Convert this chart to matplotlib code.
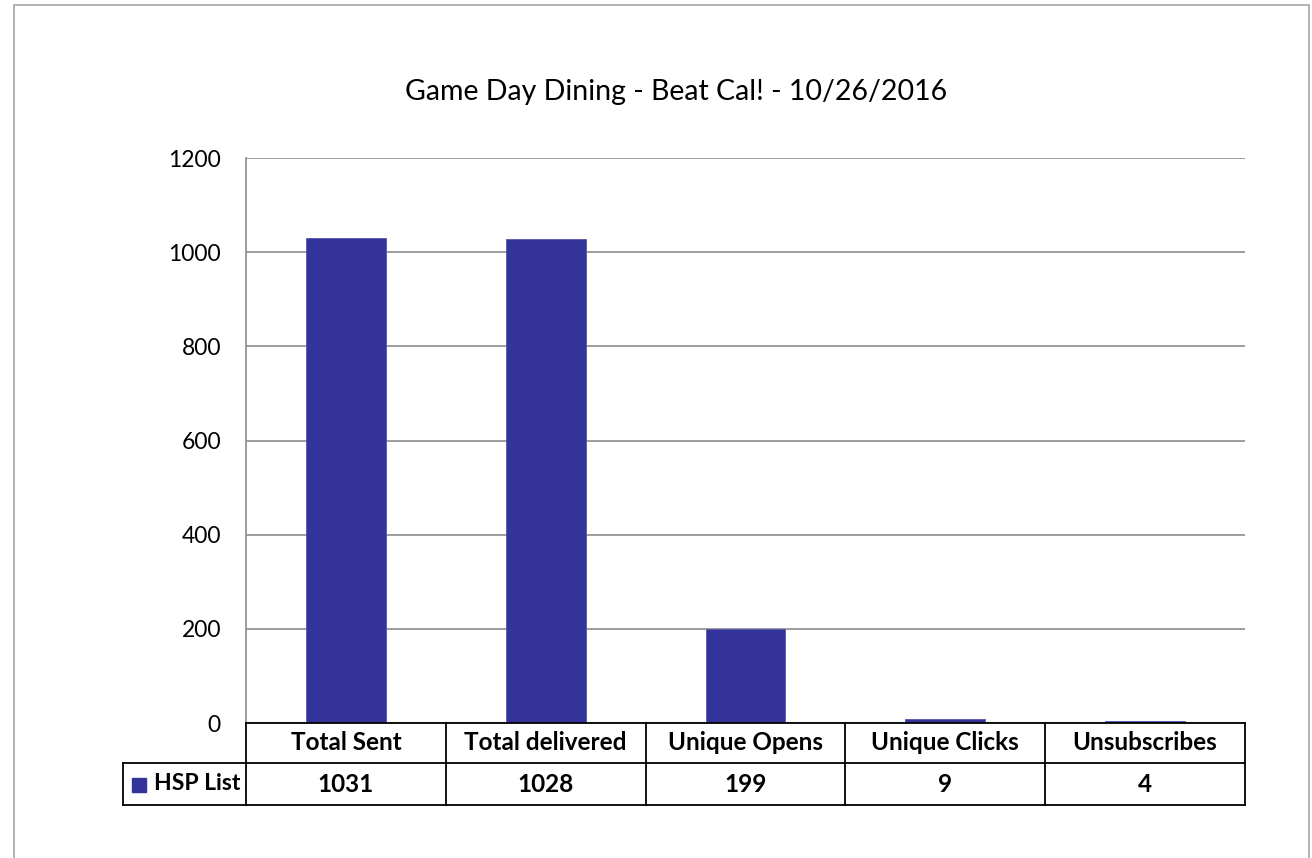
import matplotlib
matplotlib.use("Agg")
import matplotlib.pyplot as plt
from matplotlib.patches import Rectangle

# email campaign stats
categories = ["Total Sent", "Total delivered", "Unique Opens", "Unique Clicks", "Unsubscribes"]
hsp_list = [1031, 1028, 199, 9, 4]
series_name = "HSP List"
yticks = [0, 200, 400, 600, 800, 1000, 1200]

BAR = "#333399"
GRID = "#8c8c8c"
plt.rcParams["font.family"] = ["Lato", "DejaVu Sans"]

W, H = 1312, 858
fig = plt.figure(figsize=(W / 100, H / 100), dpi=100)

# outer chart frame (bottom edge falls below the canvas)
fig.add_artist(Rectangle((14 / W, -0.01), (1309 - 14) / W, (H - 5) / H + 0.01,
                         transform=fig.transFigure, fill=False, ec="#a6a6a6", lw=1.2))

left, right, top, bottom = 246, 1245, 158, 723
ax = fig.add_axes([left / W, (H - bottom) / H, (right - left) / W, (bottom - top) / H])

x = list(range(len(categories)))
ax.bar(x, hsp_list, width=0.4, color=BAR, edgecolor="#5555b0", lw=0.6, zorder=3)
ax.set_xlim(-0.5, len(categories) - 0.5)
ax.set_ylim(0, 1200)
ax.set_yticks(yticks)
ax.set_yticklabels([str(t) for t in yticks], fontsize=16.5)
ax.tick_params(axis="y", length=0, pad=18)
ax.set_xticks([])
ax.grid(axis="y", color=GRID, lw=1.2, zorder=0)
ax.set_axisbelow(True)
for s in ("top", "right", "bottom"):
    ax.spines[s].set_visible(False)
ax.spines["left"].set_color(GRID)
ax.spines["left"].set_linewidth(1.2)

fig.text(676 / W, 1 - 92 / H, "Game Day Dining - Beat Cal! - 10/26/2016",
         ha="center", va="center", fontsize=20.5)

# data table under the plot: x in data units, y in axes fraction
tr = ax.get_xaxis_transform()
px = 1.0 / (bottom - top)
r1 = -40 * px          # bottom of header row
r2 = -82 * px          # bottom of value row
x0 = -0.5
x1 = len(categories) - 0.5
xl = x0 - 123 / 200    # left edge of series label cell
line_kw = dict(color="black", lw=1.3, transform=tr, clip_on=False, zorder=5)

ax.plot([x0, x1], [0, 0], **line_kw)
ax.plot([xl, x1], [r1, r1], **line_kw)
ax.plot([xl, x1], [r2, r2], **line_kw)
ax.plot([xl, xl], [r1, r2], **line_kw)
for i in range(len(categories) + 1):
    ax.plot([x0 + i, x0 + i], [0, r2], **line_kw)

for i, (cat, val) in enumerate(zip(categories, hsp_list)):
    ax.text(i, r1 / 2, cat, transform=tr, ha="center", va="center",
            fontsize=17.5, fontweight="bold")
    ax.text(i, (r1 + r2) / 2, str(val), transform=tr, ha="center", va="center",
            fontsize=17.5, fontweight="bold")

ax.add_patch(Rectangle((xl + 9 / 200, (r1 + r2) / 2 - 8 * px), 14 / 200, 14 * px,
                       transform=tr, color=BAR, clip_on=False, zorder=5))
ax.text(xl + 31 / 200, (r1 + r2) / 2, series_name, transform=tr, ha="left",
        va="center", fontsize=16.5, fontweight="bold")

fig.savefig("out.png", dpi=100)
